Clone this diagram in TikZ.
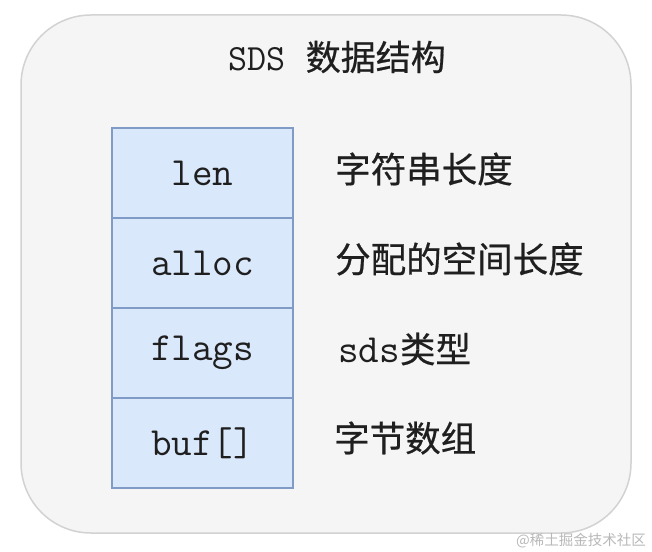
\documentclass[tikz,border=0pt]{standalone}
\usepackage{fontspec}
\newfontfamily\cjk[FakeBold=0.6]{Noto Sans CJK SC}
\newfontfamily\cjkmark{Noto Sans CJK SC}
\usetikzlibrary{positioning}
\definecolor{ink}{HTML}{1F1F1F}
\definecolor{panel}{HTML}{F5F5F5}
\definecolor{panelline}{HTML}{D2D2D2}
\definecolor{fieldfill}{HTML}{DAE8FC}
\definecolor{fieldline}{HTML}{7F9BC6}
\definecolor{mark}{HTML}{B8B8B8}
\tikzset{
  panel/.style={
    draw=panelline,
    fill=panel,
    line width=1.5pt,
    rounded corners=70pt
  },
  field/.style={
    draw=fieldline,
    fill=fieldfill,
    line width=1.5pt,
    minimum width=181pt,
    minimum height=90pt,
    inner sep=0pt,
    outer sep=0pt,
    text=ink,
    font=\ttfamily\fontsize{40}{44}\selectfont
  },
  note/.style={
    anchor=west,
    inner sep=0pt,
    text=ink,
    font=\cjk\fontsize{35.5}{40}\selectfont
  }
}
\begin{document}
\begin{tikzpicture}[x=1pt, y=-1pt]
  \useasboundingbox (0,0) rectangle (652,551);
  \draw[panel] (21,15) rectangle (631,533);

  \node[text=ink, inner sep=0pt] (title) at (337,57)
    {\ttfamily\fontsize{37}{40}\selectfont SDS\hspace{0.55em}\cjk\fontsize{35}{40}\selectfont 数据结构};

  \node[field] (len) at (202.5,173) {len};
  \node[field, below=0pt of len] (alloc) {alloc};
  \node[field, below=0pt of alloc] (flags) {flags};
  \node[field, below=0pt of flags] (buf) {buf[]};

  \node[note, right=42pt of len, yshift=4pt] (lennote) {字符串长度};
  \node[note, right=42pt of alloc, yshift=4pt] (allocnote) {分配的空间长度};
  \node[note, right=45pt of flags, yshift=4pt] (flagsnote)
    {{\ttfamily\fontsize{40}{44}\selectfont sds}类型};
  \node[note, right=41pt of buf, yshift=5pt] (bufnote) {字节数组};

  % watermark
  \node[anchor=east, inner sep=0pt, text=mark,
    font=\cjkmark\fontsize{14.5}{16}\selectfont] (mark) at (646,541) {@稀土掘金技术社区};
\end{tikzpicture}
\end{document}
